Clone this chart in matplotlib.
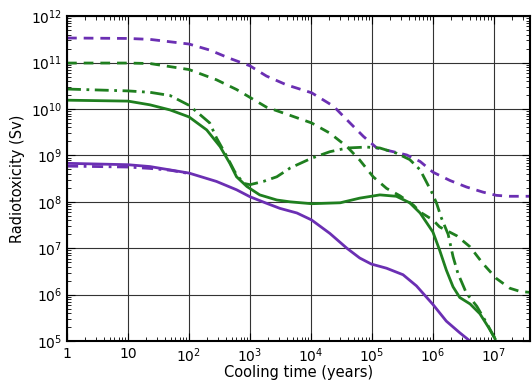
import matplotlib
matplotlib.use("Agg")
import matplotlib.pyplot as plt
import matplotlib.ticker as ticker
import numpy as np

# log10 of cooling time (years) and log10 of radiotoxicity (Sv)
pd_lx = [0, 1.0, 1.36, 2.0, 2.34, 2.67, 3.0, 3.27, 3.6, 4.01, 4.37, 4.64, 4.86, 5.08,
         5.35, 5.57, 5.79, 6.0, 6.28, 6.55, 6.82, 7.04, 7.26, 7.59]
pd_ly = [11.53, 11.52, 11.50, 11.40, 11.27, 11.09, 10.93, 10.71, 10.52, 10.35, 10.06, 9.70,
         9.41, 9.16, 9.08, 9.01, 8.87, 8.64, 8.46, 8.32, 8.21, 8.14, 8.12, 8.12]

gd_lx = [0, 1.0, 1.36, 2.0, 2.45, 2.78, 3.0, 3.27, 3.6, 4.01, 4.31, 4.59, 4.80, 5.02, 5.24,
         5.46, 5.68, 5.79, 6.0, 6.11, 6.39, 6.61, 6.82, 7.04, 7.26, 7.43, 7.59]
gd_ly = [10.99, 10.99, 10.98, 10.85, 10.63, 10.42, 10.25, 10.04, 9.89, 9.70, 9.48, 9.19, 8.90,
         8.54, 8.29, 8.13, 7.93, 7.78, 7.61, 7.46, 7.27, 7.03, 6.67, 6.35, 6.14, 6.07, 6.05]

gdd_lx = [0, 1.0, 1.36, 1.69, 2.0, 2.18, 2.34, 2.45, 2.62, 2.75, 2.89, 3.0, 3.22, 3.44, 3.66,
          4.01, 4.31, 4.59, 4.91, 5.13, 5.40, 5.62, 5.79, 5.98, 6.06, 6.14, 6.25, 6.33, 6.41,
          6.55, 6.72, 6.88, 7.02]
gdd_ly = [10.43, 10.39, 10.36, 10.29, 10.08, 9.88, 9.70, 9.38, 8.98, 8.65, 8.40, 8.37, 8.44,
          8.54, 8.73, 8.94, 9.08, 9.16, 9.18, 9.16, 9.05, 8.91, 8.69, 8.21, 7.97, 7.65, 7.30,
          6.82, 6.46, 6.03, 5.75, 5.39, 5.05]

gs_lx = [0, 1.0, 1.36, 1.69, 2.0, 2.29, 2.51, 2.67, 2.78, 2.95, 3.16, 3.44, 3.66, 4.01, 4.48,
         4.80, 5.13, 5.40, 5.62, 5.79, 6.0, 6.11, 6.22, 6.33, 6.44, 6.61, 6.77, 6.91, 7.02]
gs_ly = [10.19, 10.17, 10.09, 9.98, 9.83, 9.55, 9.19, 8.83, 8.54, 8.33, 8.15, 8.04, 8.0, 7.96,
         7.98, 8.08, 8.15, 8.12, 7.98, 7.76, 7.35, 6.96, 6.53, 6.17, 5.94, 5.80, 5.59, 5.30, 5.05]

ps_lx = [0, 1.0, 1.36, 2.0, 2.45, 2.78, 3.0, 3.27, 3.49, 3.77, 4.01, 4.31, 4.59, 4.80, 4.99,
         5.24, 5.51, 5.73, 6.0, 6.22, 6.44, 6.61]
ps_ly = [8.83, 8.80, 8.76, 8.62, 8.44, 8.26, 8.11, 7.97, 7.86, 7.76, 7.61, 7.32, 7.0, 6.79,
         6.66, 6.57, 6.43, 6.19, 5.79, 5.43, 5.18, 5.0]

pdd_lx = [0, 1.0, 1.36, 1.7, 2.0]
pdd_ly = [8.77, 8.75, 8.72, 8.68, 8.61]

x_decades = [0, 1, 2, 3, 4, 5, 6, 7]
y_decades = [5, 6, 7, 8, 9, 10, 11, 12]
x_ticklabels = ["1", "10", "$10^{2}$", "$10^{3}$", "$10^{4}$", "$10^{5}$", "$10^{6}$", "$10^{7}$"]
y_ticklabels = ["$10^{%d}$" % d for d in y_decades]

purple = "#6b2fb3"
green = "#1f7f1f"

fig = plt.figure(figsize=(5.32, 3.85), dpi=100)
ax = fig.add_axes([0.126, 0.114, 0.87, 0.844])

def p(v):
    return 10.0 ** np.array(v)

lw = 2.0
ax.plot(p(pdd_lx), p(pdd_ly), color=purple, lw=lw, linestyle=(0, (4, 2, 1, 2)))
ax.plot(p(ps_lx), p(ps_ly), color=purple, lw=lw)
ax.plot(p(pd_lx), p(pd_ly), color=purple, lw=lw, linestyle=(0, (3.5, 2.5)))
ax.plot(p(gd_lx), p(gd_ly), color=green, lw=lw, linestyle=(0, (3.5, 2.5)))
ax.plot(p(gdd_lx), p(gdd_ly), color=green, lw=lw, linestyle=(0, (5, 2, 1, 2)))
ax.plot(p(gs_lx), p(gs_ly), color=green, lw=lw)

ax.set_xscale("log")
ax.set_yscale("log")
ax.set_xlim(1, 10 ** 7.59)
ax.set_ylim(1e5, 1e12)

ax.set_xticks(p(x_decades))
ax.set_xticklabels(x_ticklabels)
ax.set_yticks(p(y_decades))
ax.set_yticklabels(y_ticklabels)
ax.xaxis.set_minor_locator(ticker.LogLocator(base=10, subs=np.arange(2, 10), numticks=20))
ax.yaxis.set_minor_locator(ticker.LogLocator(base=10, subs=np.arange(2, 10), numticks=20))
ax.xaxis.set_minor_formatter(ticker.NullFormatter())
ax.yaxis.set_minor_formatter(ticker.NullFormatter())
ax.xaxis.get_offset_text().set_visible(False)
ax.yaxis.get_offset_text().set_visible(False)

ax.tick_params(which="both", direction="in", top=True, right=True, labelsize=10)
ax.tick_params(which="major", length=6)
ax.tick_params(which="minor", length=3)
ax.tick_params(axis="x", pad=4)
ax.grid(True, which="major", color="#333333", lw=0.8)
for s in ax.spines.values():
    s.set_linewidth(1.5)

ax.set_xlabel("Cooling time (years)", fontsize=10.5, labelpad=0)
ax.set_ylabel("Radiotoxicity (Sv)", fontsize=10.5)

fig.savefig("out.png", dpi=100)
